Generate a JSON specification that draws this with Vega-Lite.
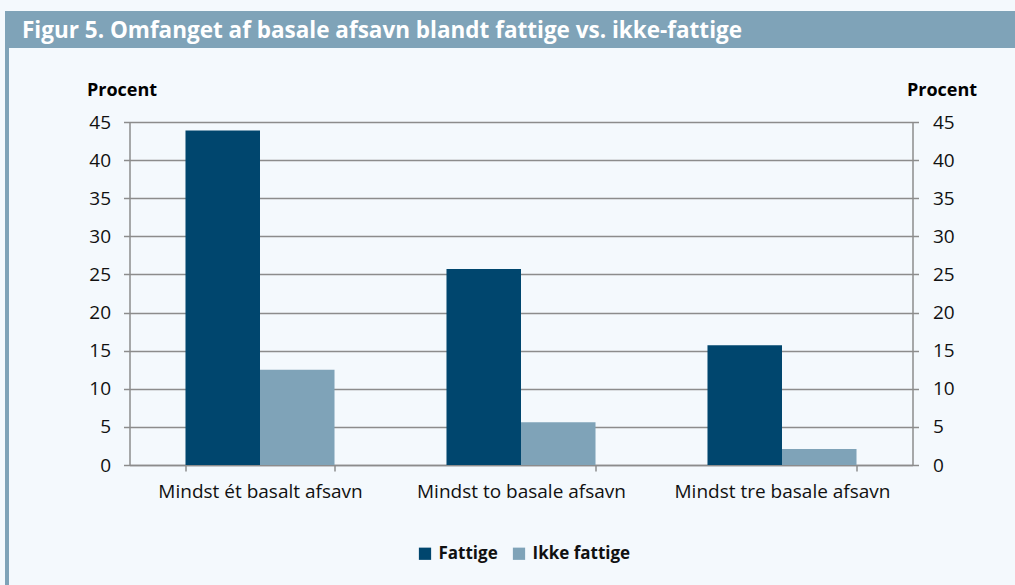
{
  "$schema": "https://vega.github.io/schema/vega-lite/v6.json",
  "background": "#f4f9fd",
  "padding": {"left": 5, "top": 11, "right": 0, "bottom": 0},
  "datasets": {
    "bars": [
      {"gruppe": "Mindst ét basalt afsavn", "serie": "Fattige", "procent": 43.9},
      {"gruppe": "Mindst ét basalt afsavn", "serie": "Ikke fattige", "procent": 12.5},
      {"gruppe": "Mindst to basale afsavn", "serie": "Fattige", "procent": 25.7},
      {"gruppe": "Mindst to basale afsavn", "serie": "Ikke fattige", "procent": 5.6},
      {"gruppe": "Mindst tre basale afsavn", "serie": "Fattige", "procent": 15.7},
      {"gruppe": "Mindst tre basale afsavn", "serie": "Ikke fattige", "procent": 2.1}
    ],
    "titel": [{"tekst": "Figur 5. Omfanget af basale afsavn blandt fattige vs. ikke-fattige"}]
  },
  "spacing": 0,
  "resolve": {"scale": {"color": "independent"}, "legend": {"color": "independent"}},
  "vconcat": [
    {
      "width": 1010,
      "height": 37,
      "view": {"fill": "#7fa3b8", "stroke": null},
      "data": {"name": "titel"},
      "mark": {"type": "text", "align": "left", "baseline": "middle", "font": "Open Sans", "fontSize": 22.5, "fontWeight": "bold", "fill": "white", "dx": 17, "dy": 1},
      "encoding": {
        "x": {"datum": 0, "type": "quantitative", "scale": {"domain": [0, 1]}, "axis": null},
        "text": {"field": "tekst"}
      }
    },
    {
      "spacing": 76.5,
      "resolve": {"scale": {"color": "independent"}, "legend": {"color": "independent"}},
      "hconcat": [
        {
          "width": 4,
          "height": 537,
          "view": {"fill": "#7fa3b8", "stroke": null},
          "data": {"values": [{}]},
          "mark": {"type": "text", "text": ""},
          "encoding": {}
        },
        {
          "width": 783,
          "height": 417,
          "data": {"name": "bars"},
          "encoding": {
            "x": {
              "field": "gruppe", "type": "nominal",
              "sort": ["Mindst ét basalt afsavn", "Mindst to basale afsavn", "Mindst tre basale afsavn"],
              "scale": {"paddingInner": 0.429, "paddingOuter": 0.2145},
              "axis": {"title": null, "labelAngle": 0, "labelLimit": 0, "tickBand": "extent", "tickSize": 6, "tickColor": "#8c8c8c", "tickWidth": 1.5, "domainColor": "#8c8c8c", "domainWidth": 1.5, "labelFont": "Open Sans", "labelFontSize": 19, "labelColor": "#111111", "labelPadding": 11}
            },
            "xOffset": {"field": "serie", "type": "nominal", "sort": ["Fattige", "Ikke fattige"], "scale": {"paddingInner": 0, "paddingOuter": 0}}
          },
          "layer": [
            {
              "mark": {"type": "bar"},
              "encoding": {
                "y": {
                  "field": "procent", "type": "quantitative",
                  "scale": {"domain": [0, 45], "nice": false, "range": [417, 74]},
                  "axis": {"orient": "left", "values": [0, 5, 10, 15, 20, 25, 30, 35, 40, 45], "grid": true, "gridColor": "#8c8c8c", "gridWidth": 1.5, "domainColor": "#8c8c8c", "domainWidth": 1.5, "tickColor": "#8c8c8c", "tickWidth": 1.5, "tickSize": 6, "labelPadding": 13, "labelFont": "Open Sans", "labelFontSize": 19, "labelColor": "#111111", "title": "Procent", "titleAngle": 0, "titleX": -8, "titleY": 47.5, "titleAlign": "center", "titleBaseline": "alphabetic", "titleFont": "Open Sans", "titleFontSize": 18, "titleFontWeight": "bold", "titleColor": "black"}
                },
                "color": {
                  "field": "serie", "type": "nominal",
                  "scale": {"domain": ["Fattige", "Ikke fattige"], "range": ["#00466e", "#7fa3b8"]},
                  "legend": {"orient": "none", "legendX": 287, "legendY": 497, "direction": "horizontal", "title": null, "symbolType": "square", "symbolSize": 150, "symbolStrokeWidth": 0, "symbolOpacity": 1, "labelFont": "Open Sans", "labelFontSize": 17, "labelFontWeight": "bold", "labelColor": "#111111", "columnPadding": 12, "labelOffset": 5}
                }
              }
            },
            {
              "mark": {"type": "bar", "opacity": 0},
              "encoding": {
                "y": {
                  "field": "procent", "type": "quantitative",
                  "scale": {"domain": [0, 45], "nice": false, "range": [417, 74]},
                  "axis": {"orient": "right", "values": [0, 5, 10, 15, 20, 25, 30, 35, 40, 45], "grid": false, "domainColor": "#8c8c8c", "domainWidth": 1.5, "tickColor": "#8c8c8c", "tickWidth": 1.5, "tickSize": 6, "labelPadding": 14, "labelFont": "Open Sans", "labelFontSize": 19, "labelColor": "#111111", "title": "Procent", "titleAngle": 0, "titleX": 29, "titleY": 47.5, "titleAlign": "center", "titleBaseline": "alphabetic", "titleFont": "Open Sans", "titleFontSize": 18, "titleFontWeight": "bold", "titleColor": "black"}
                }
              }
            }
          ],
          "resolve": {"scale": {"y": "independent"}}
        }
      ]
    }
  ],
  "config": {"view": {"stroke": null}}
}
